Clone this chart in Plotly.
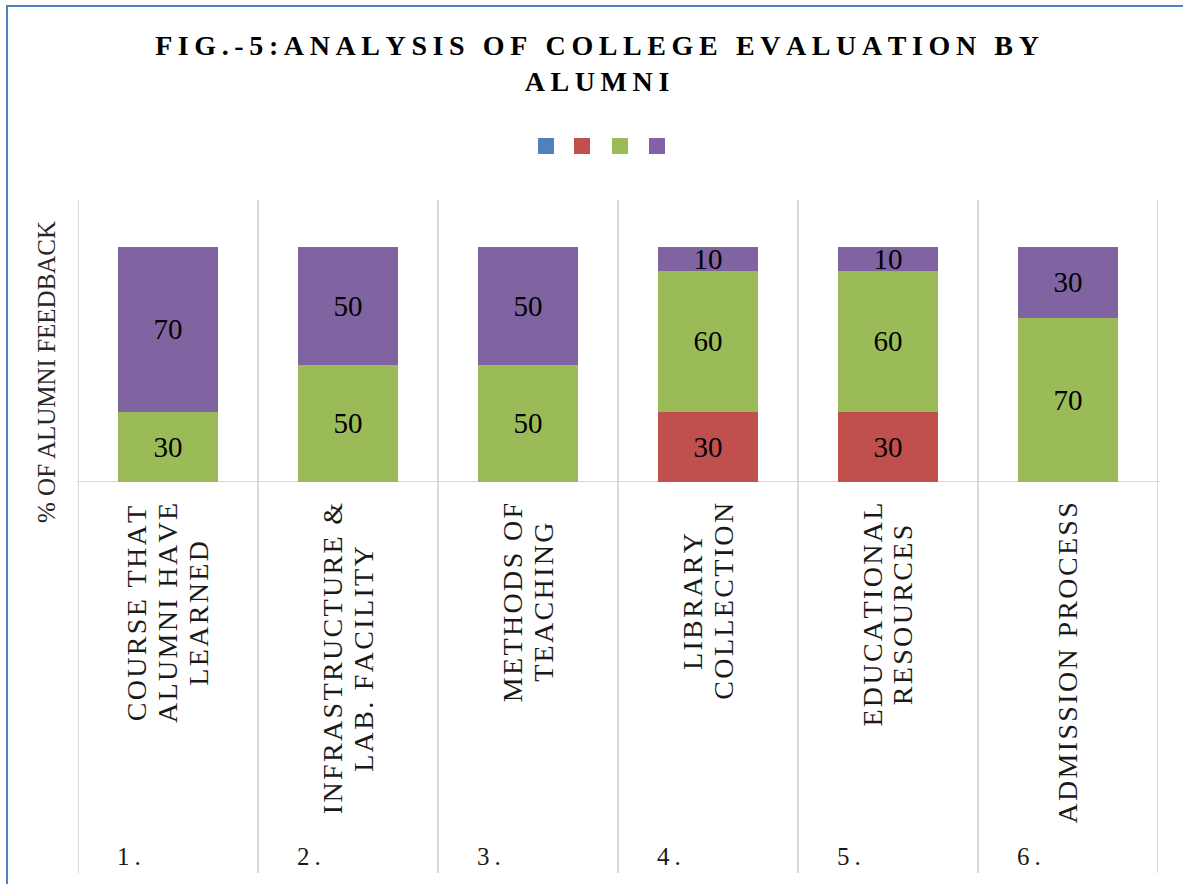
import plotly.graph_objects as go

# ---------------- data ----------------
category_keys = ["1.", "2.", "3.", "4.", "5.", "6."]
category_lines = [
    ["COURSE THAT", "ALUMNI HAVE", "LEARNED"],
    ["INFRASTRUCTURE &", "LAB. FACILITY"],
    ["METHODS OF", "TEACHING"],
    ["LIBRARY", "COLLECTION"],
    ["EDUCATIONAL", "RESOURCES"],
    ["ADMISSION PROCESS"],
]
series_colors = ["#4F81BD", "#C0504D", "#9BBB59", "#8064A2"]
blue_values = [0, 0, 0, 0, 0, 0]
red_values = [0, 0, 0, 30, 30, 0]
green_values = [30, 50, 50, 60, 60, 70]
purple_values = [70, 50, 50, 10, 10, 30]
series_values = [blue_values, red_values, green_values, purple_values]

title_line1 = "FIG.-5:ANALYSIS OF COLLEGE EVALUATION BY"
title_line2 = "ALUMNI"
y_title = "% OF ALUMNI FEEDBACK"

# ---------------- geometry helpers ----------------
W, H = 1183, 884
PL, PR, PT, PB = 78, 1158, 200, 482   # plot area in pixels


def px_x(px):
    return (px - PL) / (PR - PL)


def px_y(py):
    return (PB - py) / (PB - PT)


THIN = "\u2009"
HAIR = "\u200a"


def track(s, sep):
    return sep.join(s)


TIMES = {'A': .722, 'B': .667, 'C': .667, 'D': .722, 'E': .611, 'F': .556, 'G': .722,
         'H': .722, 'I': .333, 'J': .389, 'K': .722, 'L': .611, 'M': .889, 'N': .722,
         'O': .722, 'P': .556, 'Q': .722, 'R': .667, 'S': .556, 'T': .611, 'U': .722,
         'V': .722, 'W': .944, 'X': .722, 'Y': .722, 'Z': .611, ' ': .25, '.': .25, '&': .778}
HAIR_EM = 0.083
LABEL_FS = 28


def text_len(s):
    return (sum(TIMES.get(c, .6) for c in s) + (len(s) - 1) * HAIR_EM) * LABEL_FS


SERIF = "Liberation Serif"
positions = list(range(len(category_keys)))

fig = go.Figure()
for vals, col in zip(series_values, series_colors):
    fig.add_trace(go.Bar(
        x=positions, y=vals,
        marker=dict(color=col, line=dict(width=0)),
        text=[str(v) if v else "" for v in vals],
        textposition="inside", insidetextanchor="middle",
        constraintext="none", textangle=0,
        insidetextfont=dict(family=SERIF, size=29, color="black"),
        showlegend=False, hoverinfo="skip",
    ))

# legend entries (no text, only colour keys), one small legend each
legend_names = ["legend", "legend2", "legend3", "legend4"]
legend_centers = [546, 582, 620, 657]
for col, lg in zip(series_colors, legend_names):
    fig.add_trace(go.Scatter(
        x=[None], y=[None], mode="markers", name="",
        marker=dict(symbol="square", size=16, color=col),
        showlegend=True, legend=lg, hoverinfo="skip",
    ))

legend_layout = {}
for lg, cx in zip(legend_names, legend_centers):
    legend_layout[lg] = dict(
        x=px_x(cx - 20), xanchor="left", y=px_y(146), yanchor="middle",
        bgcolor="rgba(0,0,0,0)", borderwidth=0, orientation="h",
        font=dict(size=10),
    )

shapes = []
# outer chart border
shapes.append(dict(type="rect", xref="paper", yref="paper",
                   x0=px_x(7), x1=px_x(1210), y0=px_y(900), y1=px_y(6),
                   line=dict(color="#4F81BD", width=2), fillcolor="rgba(0,0,0,0)",
                   layer="below"))
# category separators
for i in range(len(category_keys) + 1):
    shapes.append(dict(type="line", xref="x", yref="paper",
                       x0=i - 0.5, x1=i - 0.5, y0=px_y(873), y1=1,
                       line=dict(color="#D9D9D9", width=2), layer="below"))
# horizontal axis line
shapes.append(dict(type="line", xref="paper", yref="y",
                   x0=px_x(77), x1=px_x(1160), y0=0, y1=0,
                   line=dict(color="#D9D9D9", width=2), layer="below"))

annotations = []
# y-axis title
annotations.append(dict(text=y_title, xref="paper", yref="paper",
                        x=px_x(46), y=px_y(372), textangle=-90, showarrow=False,
                        xanchor="center", yanchor="middle",
                        font=dict(family=SERIF, size=25, color="#262626")))
# category labels (rotated, centred lines, top aligned)
LABEL_TOP = 503
PITCH = 30.7
for pos, key, lines in zip(positions, category_keys, category_lines):
    lmax = max(text_len(s) for s in lines)
    cy = LABEL_TOP + lmax / 2
    n = len(lines)
    for j, s in enumerate(lines):
        annotations.append(dict(
            text=track(s, HAIR), xref="x", yref="paper", x=pos, y=px_y(cy),
            xshift=(j - (n - 1) / 2) * PITCH, textangle=-90, showarrow=False,
            xanchor="center", yanchor="middle",
            font=dict(family=SERIF, size=LABEL_FS, color="#1a1a1a")))
    # outer level label (numbers)
    annotations.append(dict(
        text=track(key, THIN), xref="x", yref="paper", x=pos, y=px_y(857),
        xshift=-53, showarrow=False, xanchor="left", yanchor="middle",
        font=dict(family=SERIF, size=25, color="#1a1a1a")))

fig.update_layout(
    width=W, height=H,
    margin=dict(l=PL, r=W - PR, t=PT, b=H - PB, pad=0),
    paper_bgcolor="white", plot_bgcolor="white",
    barmode="stack", bargap=1 - 100 / 180,
    title=dict(text=track(title_line1, THIN) + "<br>" + track(title_line2, THIN),
               x=597 / W, xref="container", xanchor="center",
               y=1 - 55 / H, yref="container", yanchor="top",
               font=dict(family=SERIF, size=28, color="black", weight="bold")),
    xaxis=dict(range=[-0.5, 5.5], showticklabels=False,
               showgrid=False, zeroline=False, showline=False, ticks=""),
    yaxis=dict(range=[0, 120], showticklabels=False, showgrid=False,
               zeroline=False, showline=False, ticks=""),
    shapes=shapes, annotations=annotations,
    **legend_layout,
)

fig.write_html("out.html", config={"displayModeBar": False},
               post_script="document.body.style.margin='0';")
